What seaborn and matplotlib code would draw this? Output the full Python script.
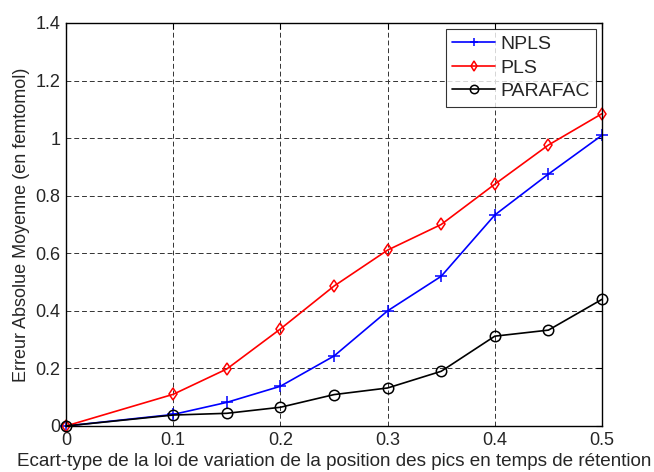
import numpy as np
import pandas as pd
import matplotlib
matplotlib.use('Agg')
import matplotlib.pyplot as plt
import seaborn as sns

# Values
ecart = [0, 0.1, 0.15, 0.2, 0.25, 0.3, 0.35, 0.4, 0.45, 0.5]
npls = [0, 0.04, 0.082, 0.138, 0.243, 0.40, 0.52, 0.733, 0.875, 1.01]
pls = [0, 0.11, 0.198, 0.337, 0.486, 0.611, 0.70, 0.84, 0.976, 1.085]
parafac = [0, 0.038, 0.044, 0.065, 0.109, 0.132, 0.19, 0.312, 0.333, 0.44]

df = pd.DataFrame({
    'ecart': ecart * 3,
    'erreur': npls + pls + parafac,
    'methode': ['NPLS'] * len(ecart) + ['PLS'] * len(ecart) + ['PARAFAC'] * len(ecart),
})

sns.set_style('white')
plt.rcParams['font.family'] = ['Liberation Sans', 'DejaVu Sans']

fig = plt.figure(figsize=(6.54, 4.72), dpi=100)
ax = fig.add_axes([0.1009, 0.0975, 0.8196, 0.8538])

palette = {'NPLS': '#0000ff', 'PLS': '#ff0000', 'PARAFAC': '#000000'}
markers = {'NPLS': '+', 'PLS': 'd', 'PARAFAC': 'o'}
sizes = {'NPLS': 8, 'PLS': 6, 'PARAFAC': 7.5}

for name in ['NPLS', 'PLS', 'PARAFAC']:
    sub = df[df['methode'] == name]
    sns.lineplot(data=sub, x='ecart', y='erreur', ax=ax, color=palette[name],
                 marker=markers[name], markersize=sizes[name], markerfacecolor='none',
                 markeredgecolor=palette[name], markeredgewidth=1.1,
                 linewidth=1.2, label=name, clip_on=False)

ax.set_xlim(0, 0.5)
ax.set_ylim(0, 1.4)
ax.set_xticks([0, 0.1, 0.2, 0.3, 0.4, 0.5])
ax.set_xticklabels(['0', '0.1', '0.2', '0.3', '0.4', '0.5'])
ax.set_yticks([0, 0.2, 0.4, 0.6, 0.8, 1, 1.2, 1.4])
ax.set_yticklabels(['0', '0.2', '0.4', '0.6', '0.8', '1', '1.2', '1.4'])
ax.grid(True, linestyle=(0, (5, 3)), color='#333333', linewidth=0.7)
ax.tick_params(direction='in', top=True, right=True, length=4, labelsize=13,
               color='black', pad=4)
for s in ax.spines.values():
    s.set_color('black')
    s.set_linewidth(1.0)

ax.set_xlabel('Ecart-type de la loi de variation de la position des pics en temps de rétention',
              fontsize=13.6, labelpad=3)
ax.set_ylabel('Erreur Absolue Moyenne (en femtomol)', fontsize=13, labelpad=4)

leg = ax.legend(loc='upper right', bbox_to_anchor=(1, 1), fontsize=14, frameon=True,
                fancybox=False, edgecolor='black', borderaxespad=0.3, handlelength=2.2,
                handletextpad=0.25, labelspacing=0.3, borderpad=0.35, markerscale=0.8)
leg.get_frame().set_linewidth(0.8)

fig.savefig('out.png', dpi=100)
